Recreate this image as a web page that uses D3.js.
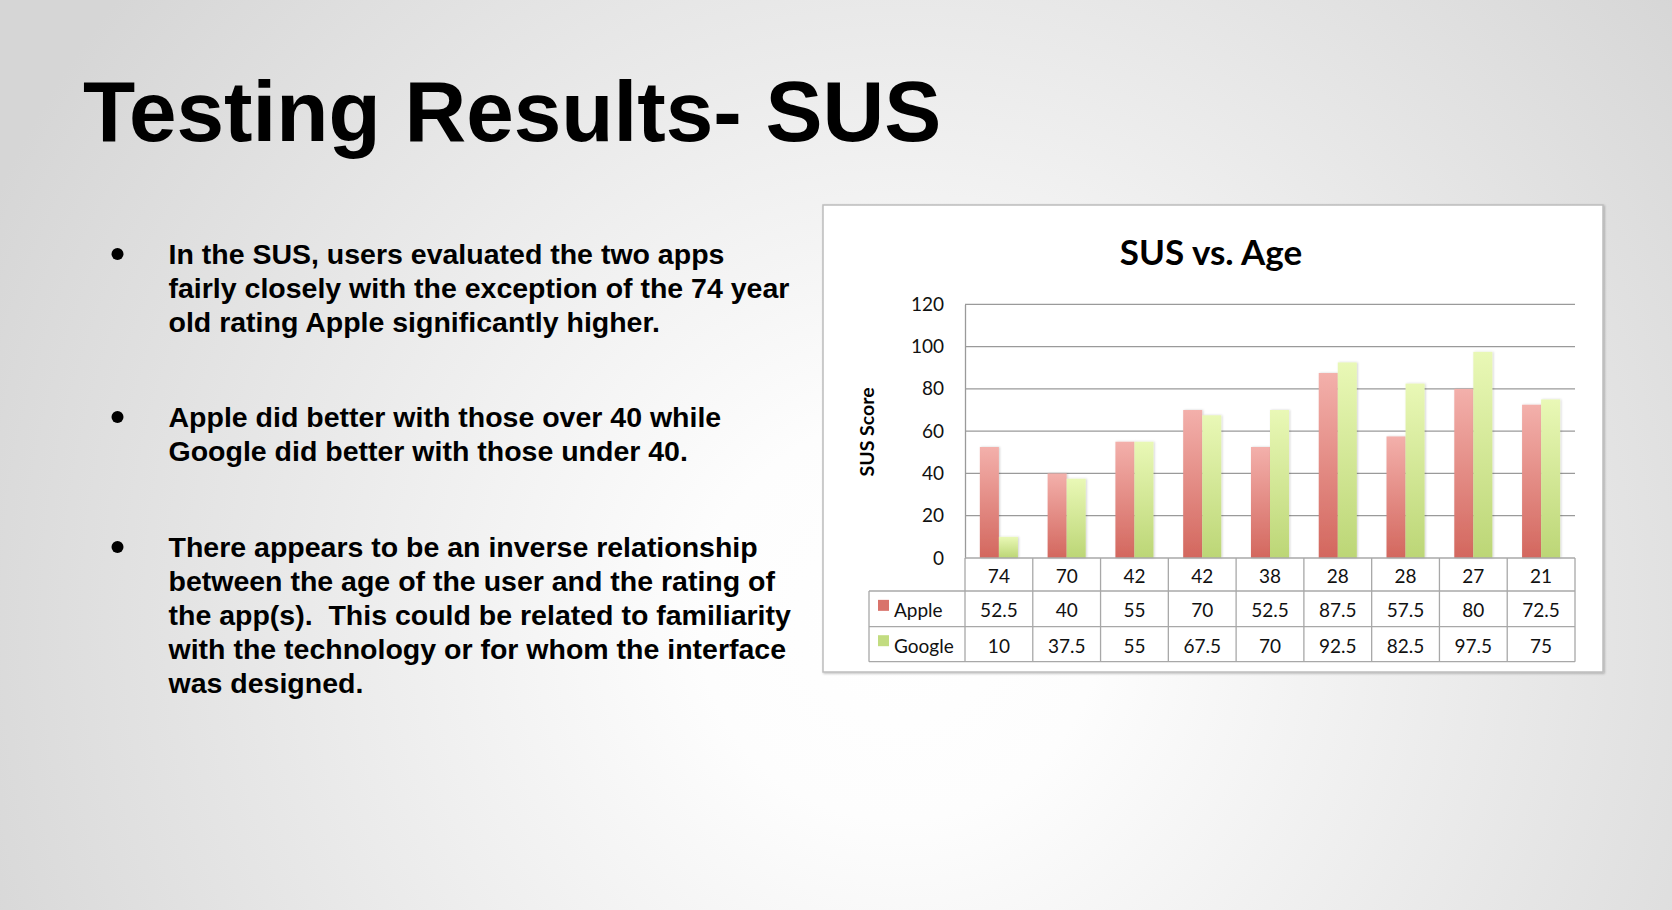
<!DOCTYPE html>
<html>
<head>
<meta charset="utf-8">
<script src="https://cdn.jsdelivr.net/npm/d3@7"></script>
<style>
  html, body { margin: 0; padding: 0; overflow: hidden; }
  svg { display: block; }
</style>
</head>
<body>
<svg id="slide" width="1672" height="910"></svg>
<script>
// --- data ---
const ages   = ["74", "70", "42", "42", "38", "28", "28", "27", "21"];
const apple  = [52.5, 40, 55, 70, 52.5, 87.5, 57.5, 80, 72.5];
const google = [10, 37.5, 55, 67.5, 70, 92.5, 82.5, 97.5, 75];
const seriesNames = ["Apple", "Google"];
const yTicks = [0, 20, 40, 60, 80, 100, 120];

const bullets = [
  ["In the SUS, users evaluated the two apps",
   "fairly closely with the exception of the 74 year",
   "old rating Apple significantly higher."],
  ["Apple did better with those over 40 while",
   "Google did better with those under 40."],
  ["There appears to be an inverse relationship",
   "between the age of the user and the rating of",
   "the app(s).  This could be related to familiarity",
   "with the technology or for whom the interface",
   "was designed."]
];

const svg = d3.select("#slide");
const defs = svg.append("defs");

// slide background
const bg = defs.append("radialGradient")
  .attr("id", "bg")
  .attr("gradientUnits", "userSpaceOnUse")
  .attr("cx", 900).attr("cy", 620).attr("r", 1000);
bg.append("stop").attr("offset", "0%").attr("stop-color", "#ffffff");
bg.append("stop").attr("offset", "20%").attr("stop-color", "#fdfdfd");
bg.append("stop").attr("offset", "100%").attr("stop-color", "#d6d6d6");

svg.append("rect").attr("width", 1672).attr("height", 910).attr("fill", "url(#bg)");

// slide title
svg.append("text")
  .attr("x", 83).attr("y", 141)
  .style("font-family", "'Liberation Sans', Arial, sans-serif")
  .style("font-weight", "bold")
  .style("font-size", "85.5px")
  .attr("fill", "#000")
  .text("Testing Results- SUS");

// bullets
const bulletStarts = [263.5, 426.5, 556.6];
const lineH = 34.1;
bullets.forEach((lines, i) => {
  svg.append("circle")
    .attr("cx", 117.5).attr("cy", bulletStarts[i] - 9.5)
    .attr("r", 6)
    .attr("fill", "#000");
  svg.append("g").selectAll("text")
    .data(lines)
    .join("text")
    .attr("x", 168.5)
    .attr("y", (d, j) => bulletStarts[i] + j * lineH)
    .style("font-family", "'Liberation Sans', Arial, sans-serif")
    .style("font-weight", "bold")
    .style("font-size", "28.5px")
    .style("white-space", "pre")
    .attr("fill", "#000")
    .text(d => d);
});

// --- chart ---
const box = { x: 823, y: 205, w: 780, h: 467 };
const shadow = defs.append("filter").attr("id", "boxshadow")
  .attr("x", "-5%").attr("y", "-5%").attr("width", "110%").attr("height", "110%");
shadow.append("feDropShadow").attr("dx", 1).attr("dy", 1).attr("stdDeviation", 1.2)
  .attr("flood-color", "#000").attr("flood-opacity", 0.25);

svg.append("rect")
  .attr("x", box.x).attr("y", box.y).attr("width", box.w).attr("height", box.h)
  .attr("fill", "#fff").attr("stroke", "#bdbdbd").attr("stroke-width", 1.5)
  .attr("filter", "url(#boxshadow)");

const chartFont = "Lato, 'Open Sans', sans-serif";

svg.append("text")
  .attr("x", box.x + box.w / 2 - 2).attr("y", 265)
  .attr("text-anchor", "middle")
  .style("font-family", chartFont)
  .style("font-weight", "bold")
  .style("font-size", "35px")
  .attr("fill", "#000")
  .text("SUS vs. Age");

const plotL = 965, plotR = 1575, plotTop = 304.3, plotBottom = 558;
const x = d3.scaleBand().domain(d3.range(ages.length)).range([plotL, plotR]);
const xs = d3.scaleBand().domain(seriesNames).range([0, x.bandwidth()])
  .paddingInner(0).paddingOuter(0.78);
const y = d3.scaleLinear().domain([0, 120]).range([plotBottom, plotTop]);

// gridlines
svg.append("g")
  .selectAll("line")
  .data(yTicks.filter(t => t > 0))
  .join("line")
  .attr("x1", plotL).attr("x2", plotR)
  .attr("y1", d => y(d)).attr("y2", d => y(d))
  .attr("stroke", "#9a9a9a").attr("stroke-width", 1.3);

// y axis
const yAxis = svg.append("g")
  .attr("transform", `translate(${plotL},0)`)
  .call(d3.axisLeft(y).tickValues(yTicks).tickSize(0).tickPadding(21));
yAxis.select(".domain").attr("stroke", "#9a9a9a").attr("stroke-width", 1.3);
yAxis.selectAll("text")
  .style("font-family", chartFont)
  .style("font-size", "19px")
  .attr("fill", "#111");

svg.append("text")
  .attr("transform", "translate(874,432) rotate(-90)")
  .attr("text-anchor", "middle")
  .style("font-family", chartFont)
  .style("font-weight", "bold")
  .style("font-size", "19.5px")
  .attr("fill", "#000")
  .text("SUS Score");

// bar gradients
const colors = {
  Apple:  { top: "#f3b0ab", bottom: "#d3675e", key: "#d9736b" },
  Google: { top: "#e9f8b6", bottom: "#bcd676", key: "#c2dc80" }
};
seriesNames.forEach(s => {
  const g = defs.append("linearGradient").attr("id", "grad-" + s)
    .attr("x1", 0).attr("y1", 0).attr("x2", 0).attr("y2", 1);
  g.append("stop").attr("offset", "0%").attr("stop-color", colors[s].top);
  g.append("stop").attr("offset", "100%").attr("stop-color", colors[s].bottom);
});
const barShadow = defs.append("filter").attr("id", "barshadow")
  .attr("x", "-30%").attr("y", "-5%").attr("width", "160%").attr("height", "110%");
barShadow.append("feDropShadow").attr("dx", 1).attr("dy", 0).attr("stdDeviation", 1)
  .attr("flood-color", "#000").attr("flood-opacity", 0.18);

const barData = [];
ages.forEach((a, i) => {
  barData.push({ i, s: "Apple", v: apple[i] });
  barData.push({ i, s: "Google", v: google[i] });
});

svg.append("g")
  .selectAll("rect")
  .data(barData)
  .join("rect")
  .attr("x", d => x(d.i) + xs(d.s))
  .attr("width", xs.bandwidth())
  .attr("y", d => y(d.v))
  .attr("height", d => y(0) - y(d.v))
  .attr("fill", d => `url(#grad-${d.s})`)
  .attr("filter", "url(#barshadow)");

// data table
const rowTop = [558, 591, 626.7];
const rowBottom = 661.7;
const legendL = 869;
const tableStroke = "#a8a8a8";
const tbl = svg.append("g");

// horizontal lines
tbl.append("line").attr("x1", plotL).attr("x2", plotR).attr("y1", rowTop[0]).attr("y2", rowTop[0])
  .attr("stroke", tableStroke).attr("stroke-width", 1.3);
[rowTop[1], rowTop[2], rowBottom].forEach(yy => {
  tbl.append("line").attr("x1", legendL).attr("x2", plotR).attr("y1", yy).attr("y2", yy)
    .attr("stroke", tableStroke).attr("stroke-width", 1.3);
});
// vertical lines
tbl.append("line").attr("x1", legendL).attr("x2", legendL).attr("y1", rowTop[1]).attr("y2", rowBottom)
  .attr("stroke", tableStroke).attr("stroke-width", 1.3);
tbl.selectAll(".vl")
  .data(d3.range(ages.length + 1))
  .join("line")
  .attr("x1", i => i < ages.length ? x(i) : plotR)
  .attr("x2", i => i < ages.length ? x(i) : plotR)
  .attr("y1", rowTop[0]).attr("y2", rowBottom)
  .attr("stroke", tableStroke).attr("stroke-width", 1.3);

const rows = [ages, apple, google];
rows.forEach((vals, r) => {
  const yMid = r < 2 ? (rowTop[r] + rowTop[r + 1]) / 2 : (rowTop[2] + rowBottom) / 2;
  tbl.append("g").selectAll("text")
    .data(vals)
    .join("text")
    .attr("x", (d, i) => x(i) + x.bandwidth() / 2)
    .attr("y", yMid + 1)
    .attr("text-anchor", "middle")
    .attr("dominant-baseline", "central")
    .style("font-family", chartFont)
    .style("font-size", "19px")
    .attr("fill", "#111")
    .text(d => d);
});

// legend keys
seriesNames.forEach((s, k) => {
  const yMid = k === 0 ? (rowTop[1] + rowTop[2]) / 2 : (rowTop[2] + rowBottom) / 2;
  tbl.append("rect")
    .attr("x", 878).attr("y", yMid - 9).attr("width", 11).attr("height", 11)
    .attr("fill", colors[s].key);
  tbl.append("text")
    .attr("x", 894).attr("y", yMid + 1)
    .attr("dominant-baseline", "central")
    .style("font-family", chartFont)
    .style("font-size", "19px")
    .attr("fill", "#111")
    .text(s);
});
</script>
</body>
</html>
